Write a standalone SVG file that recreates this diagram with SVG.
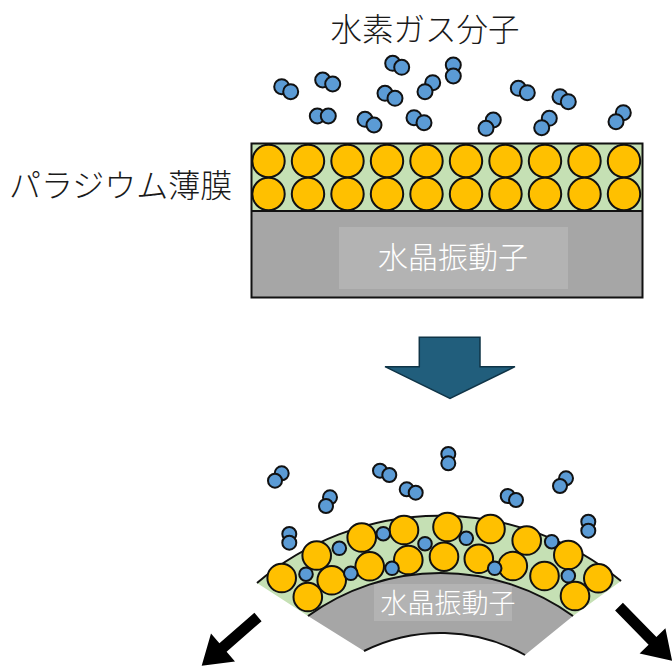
<svg xmlns="http://www.w3.org/2000/svg" width="672" height="670" viewBox="0 0 672 670">
  <style>
    .lbl { font-family: "Noto Sans CJK JP", "Noto Sans", sans-serif; font-weight: 300; fill: #1a1a1a; }
    .wlbl { font-family: "Noto Sans CJK JP", "Noto Sans", sans-serif; font-weight: 300; fill: #ffffff; }
    .pd { fill: #ffc000; stroke: #111; stroke-width: 2; }
    .h { fill: #5b9bd5; stroke: #111; stroke-width: 2; }
    .film { fill: #c5e0b4; }
    .quartz { fill: #a6a6a6; }
    .tag { fill: #b3b3b3; }
    .edge { fill: none; stroke: #111; stroke-width: 2; }
  </style>

  <!-- title -->
  <g id="title">
    <text class="lbl" x="425" y="41" font-size="31.5" text-anchor="middle">水素ガス分子</text>
  </g>
  <g id="film-label">
    <text class="lbl" x="9" y="197" font-size="32">パラジウム薄膜</text>
  </g>

  <!-- flat plate: palladium film on quartz -->
  <g id="flat-plate">
    <rect class="quartz" x="251.5" y="211" width="391" height="86.5"/>
    <rect class="tag" x="339" y="227" width="229" height="62"/>
    <text class="wlbl" x="453" y="268" font-size="30" text-anchor="middle">水晶振動子</text>
    <rect class="film" x="251.5" y="143.5" width="391" height="67.5"/>
    <g id="pd-flat">
      <circle class="pd" cx="268.5" cy="161" r="16.2"/>
      <circle class="pd" cx="308" cy="161" r="16.2"/>
      <circle class="pd" cx="347.5" cy="161" r="16.2"/>
      <circle class="pd" cx="387" cy="161" r="16.2"/>
      <circle class="pd" cx="426.5" cy="161" r="16.2"/>
      <circle class="pd" cx="466" cy="161" r="16.2"/>
      <circle class="pd" cx="505.5" cy="161" r="16.2"/>
      <circle class="pd" cx="545" cy="161" r="16.2"/>
      <circle class="pd" cx="584.5" cy="161" r="16.2"/>
      <circle class="pd" cx="624" cy="161" r="16.2"/>
      <circle class="pd" cx="268.5" cy="194" r="16.2"/>
      <circle class="pd" cx="308" cy="194" r="16.2"/>
      <circle class="pd" cx="347.5" cy="194" r="16.2"/>
      <circle class="pd" cx="387" cy="194" r="16.2"/>
      <circle class="pd" cx="426.5" cy="194" r="16.2"/>
      <circle class="pd" cx="466" cy="194" r="16.2"/>
      <circle class="pd" cx="505.5" cy="194" r="16.2"/>
      <circle class="pd" cx="545" cy="194" r="16.2"/>
      <circle class="pd" cx="584.5" cy="194" r="16.2"/>
      <circle class="pd" cx="624" cy="194" r="16.2"/>
    </g>
    <rect class="edge" x="251.5" y="143.5" width="391" height="154"/>
    <line class="edge" x1="251.5" y1="211" x2="642.5" y2="211"/>
  </g>

  <!-- hydrogen molecules above the flat plate -->
  <g id="h2-top">
    <circle class="h" cx="281.7" cy="86.7" r="7.5"/><circle class="h" cx="290.7" cy="91.7" r="7.5"/>
    <circle class="h" cx="322.7" cy="80" r="7.5"/><circle class="h" cx="332.7" cy="84" r="7.5"/>
    <circle class="h" cx="392.7" cy="63.3" r="7.5"/><circle class="h" cx="401.7" cy="67.3" r="7.5"/>
    <circle class="h" cx="453.3" cy="65" r="7.5"/><circle class="h" cx="453.3" cy="76" r="7.5"/>
    <circle class="h" cx="432.7" cy="82.7" r="7.5"/><circle class="h" cx="425" cy="91.7" r="7.5"/>
    <circle class="h" cx="385" cy="93.3" r="7.5"/><circle class="h" cx="395" cy="98.3" r="7.5"/>
    <circle class="h" cx="317.3" cy="116" r="7.5"/><circle class="h" cx="328.3" cy="116" r="7.5"/>
    <circle class="h" cx="365" cy="119.3" r="7.5"/><circle class="h" cx="374" cy="125" r="7.5"/>
    <circle class="h" cx="414" cy="117.7" r="7.5"/><circle class="h" cx="424" cy="122.7" r="7.5"/>
    <circle class="h" cx="493.3" cy="120" r="7.5"/><circle class="h" cx="486" cy="128.3" r="7.5"/>
    <circle class="h" cx="518.3" cy="88.3" r="7.5"/><circle class="h" cx="527.3" cy="92.7" r="7.5"/>
    <circle class="h" cx="560" cy="96.7" r="7.5"/><circle class="h" cx="568.3" cy="101.7" r="7.5"/>
    <circle class="h" cx="549.3" cy="118.3" r="7.5"/><circle class="h" cx="541.7" cy="127.7" r="7.5"/>
    <circle class="h" cx="623.3" cy="112.7" r="7.5"/><circle class="h" cx="616" cy="121.7" r="7.5"/>
  </g>

  <!-- block arrow between the two states -->
  <g id="arrow-down">
    <polygon points="419.3,337.3 480,337.3 480,366.7 515,366.7 450,398.3 385,366.7 419.3,366.7" fill="#215e7c" stroke="#0f3447" stroke-width="1.5" stroke-linejoin="miter"/>
  </g>

  <!-- bent plate -->
  <g id="bent-plate">
    <path class="film" d="M257,583 A283,283 0 0 1 621,581 L573,616 A226,226 0 0 0 308,616 Z"/>
    <path class="quartz" d="M308,616 A226,226 0 0 1 573,616 L525,655 A172,172 0 0 0 364,651 Z"/>
    <rect class="tag" x="374" y="584" width="138" height="37"/>
    <text class="wlbl" x="448" y="613" font-size="27" text-anchor="middle">水晶振動子</text>
    <path class="edge" d="M257,583 A283,283 0 0 1 621,581"/>
    <path class="edge" d="M308,616 A226,226 0 0 1 573,616"/>
    <path class="edge" d="M364,651 A172,172 0 0 1 525,655"/>
    <g id="pd-bent">
      <circle class="pd" cx="316.7" cy="555.5" r="14.3"/>
      <circle class="pd" cx="361.7" cy="537.5" r="14.3"/>
      <circle class="pd" cx="404" cy="530" r="14.3"/>
      <circle class="pd" cx="447.5" cy="527" r="14.3"/>
      <circle class="pd" cx="490.5" cy="529" r="14.3"/>
      <circle class="pd" cx="526.7" cy="540.5" r="14.3"/>
      <circle class="pd" cx="568.3" cy="555" r="14.3"/>
      <circle class="pd" cx="598.3" cy="578.3" r="14.3"/>
      <circle class="pd" cx="281.7" cy="578" r="14.3"/>
      <circle class="pd" cx="307.8" cy="597" r="14.3"/>
      <circle class="pd" cx="331.7" cy="580.3" r="14.3"/>
      <circle class="pd" cx="369.7" cy="566.3" r="14.3"/>
      <circle class="pd" cx="408.3" cy="560" r="14.3"/>
      <circle class="pd" cx="444" cy="556.7" r="14.3"/>
      <circle class="pd" cx="478.8" cy="558.8" r="14.3"/>
      <circle class="pd" cx="512.8" cy="566" r="14.3"/>
      <circle class="pd" cx="544.5" cy="576" r="14.3"/>
      <circle class="pd" cx="575" cy="596" r="14.3"/>
    </g>
    <g id="h-absorbed">
      <circle class="h" cx="383.3" cy="533.7" r="6.8"/>
      <circle class="h" cx="339.3" cy="548.3" r="6.8"/>
      <circle class="h" cx="425" cy="543.7" r="6.8"/>
      <circle class="h" cx="466.3" cy="538.3" r="6.8"/>
      <circle class="h" cx="551.7" cy="541.7" r="6.8"/>
      <circle class="h" cx="306" cy="574.2" r="6.8"/>
      <circle class="h" cx="350.8" cy="573.3" r="6.8"/>
      <circle class="h" cx="392" cy="568.3" r="6.8"/>
      <circle class="h" cx="494.7" cy="568.3" r="6.8"/>
      <circle class="h" cx="568.3" cy="575.8" r="6.8"/>
    </g>
  </g>

  <!-- hydrogen molecules above the bent plate -->
  <g id="h2-bottom">
    <circle class="h" cx="281.7" cy="473.3" r="7"/><circle class="h" cx="275" cy="480.7" r="7"/>
    <circle class="h" cx="330" cy="497.3" r="7"/><circle class="h" cx="326" cy="506" r="7"/>
    <circle class="h" cx="380" cy="470.7" r="7"/><circle class="h" cx="389.3" cy="475" r="7"/>
    <circle class="h" cx="448.3" cy="454" r="7"/><circle class="h" cx="448.3" cy="463.3" r="7"/>
    <circle class="h" cx="406.7" cy="489.3" r="7"/><circle class="h" cx="415.7" cy="492.7" r="7"/>
    <circle class="h" cx="507.7" cy="496" r="7"/><circle class="h" cx="516" cy="500" r="7"/>
    <circle class="h" cx="566" cy="478.3" r="7"/><circle class="h" cx="560" cy="486" r="7"/>
    <circle class="h" cx="588.3" cy="521.7" r="7"/><circle class="h" cx="588.3" cy="530.7" r="7"/>
    <circle class="h" cx="289.3" cy="534" r="7"/><circle class="h" cx="289.3" cy="542.7" r="7"/>
  </g>

  <!-- bending arrows -->
  <g id="arrow-left">
    <polygon points="261.6,621.2 226.6,651.7 235,661.6 201.7,665.7 211,633.4 219.4,643.3 254.4,612.8" fill="#000"/>
  </g>
  <g id="arrow-right">
    <polygon points="622.9,602.8 656.4,636.9 665.4,628.2 672.1,660.8 639.6,653.4 648.6,644.7 615.1,610.6" fill="#000"/>
  </g>
</svg>
